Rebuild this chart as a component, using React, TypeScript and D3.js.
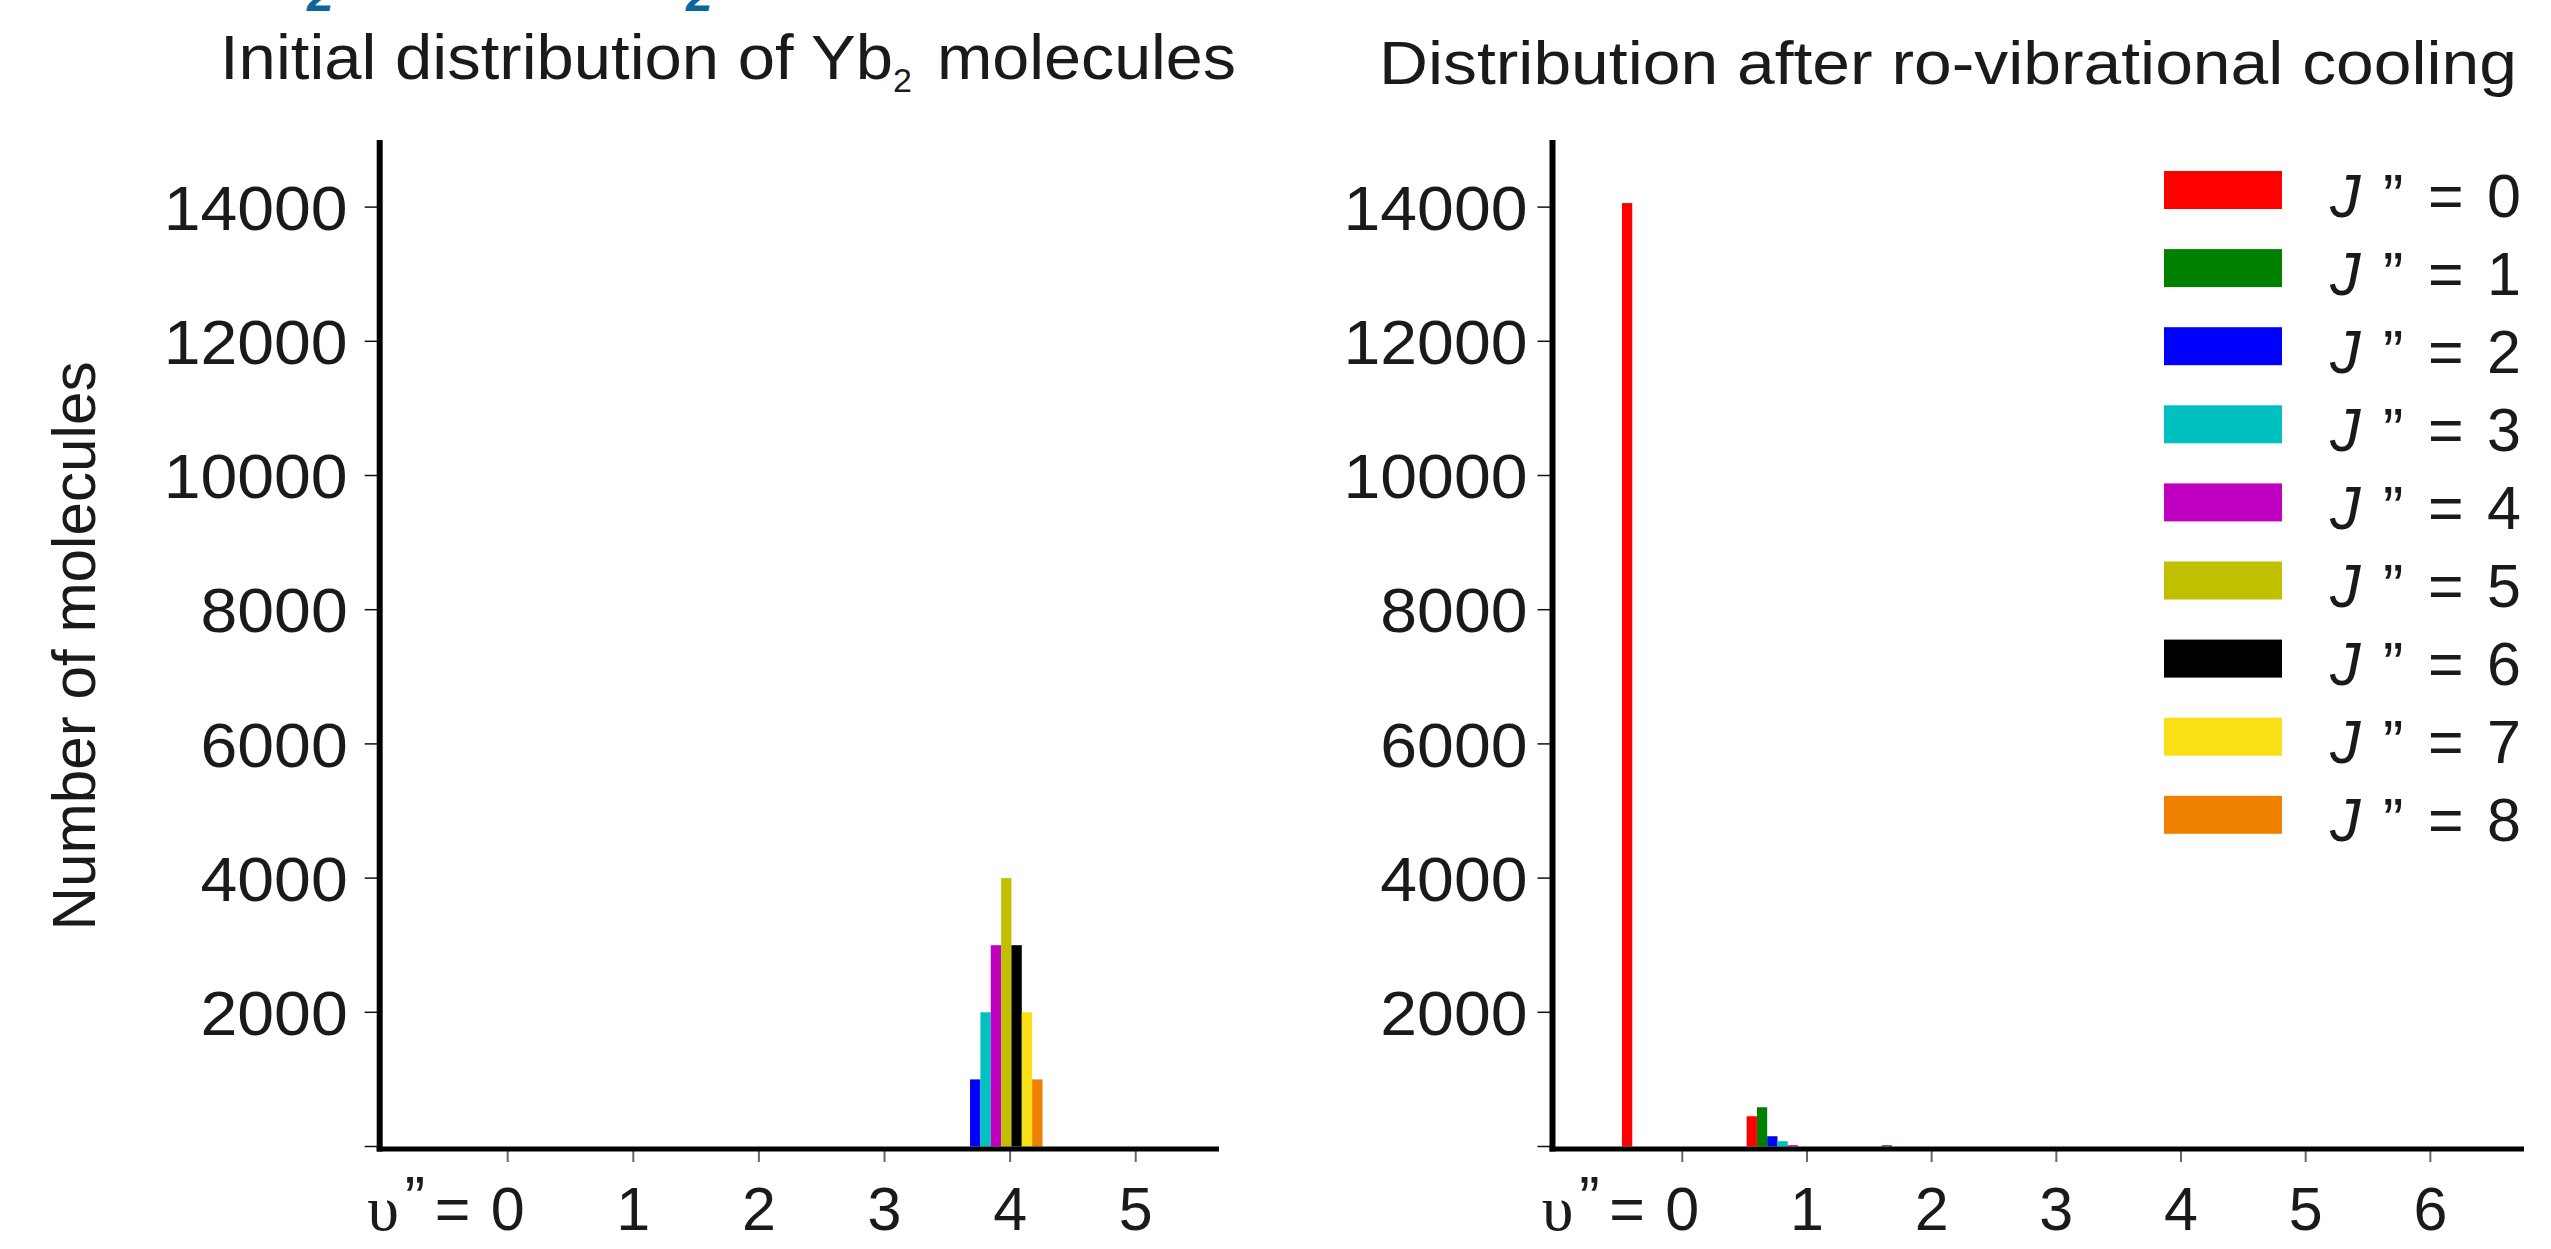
import * as d3 from "d3";

// J'' rotational levels and their colours
const jLevels = [0, 1, 2, 3, 4, 5, 6, 7, 8];
const jColors = ["#ff0000", "#008000", "#0000ff", "#00c0c0", "#c000c0", "#c0c000", "#000000", "#f9e014", "#f08000"];

// left panel: v'' = 0..5, one row per J''
const initialLevels = [0, 1, 2, 3, 4, 5];
const initialCounts = [
  [0, 0, 0, 0, 0, 0],
  [0, 0, 0, 0, 0, 0],
  [0, 0, 0, 0, 1000, 0],
  [0, 0, 0, 0, 2000, 0],
  [0, 0, 0, 0, 3000, 0],
  [0, 0, 0, 0, 4000, 0],
  [0, 0, 0, 0, 3000, 0],
  [0, 0, 0, 0, 2000, 0],
  [0, 0, 0, 0, 1000, 0],
];

// right panel: v'' = 0..6
const cooledLevels = [0, 1, 2, 3, 4, 5, 6];
const cooledCounts = [
  [14060, 451, 0, 0, 0, 0, 0],
  [0, 585, 20, 0, 0, 0, 0],
  [0, 153, 0, 0, 0, 0, 0],
  [0, 79, 0, 0, 0, 0, 0],
  [0, 20, 0, 0, 0, 0, 0],
  [0, 0, 0, 0, 0, 0, 0],
  [0, 0, 0, 0, 0, 0, 0],
  [0, 0, 0, 0, 0, 0, 0],
  [0, 0, 0, 0, 0, 0, 0],
];

const yMax = 15000;
const barW = 0.0824; // in v'' units
const groupShift = -0.113;

const sans = "'Liberation Sans', Arial, Helvetica, sans-serif";
const serif = "'Liberation Serif', 'DejaVu Serif', serif";

function Panel({ levels, counts, xDomain, xRange, labelGap }) {
  const x = d3.scaleLinear().domain(xDomain).range(xRange);
  const y = d3.scaleLinear().domain([0, yMax]).range([1146.5, 140]);
  const axisX = xRange[0];
  const bw = x(barW) - x(0);
  const t0 = x(levels[0]);

  return (
    <g>
      {/* bars */}
      {counts.map((row, j) =>
        row.map((val, vi) => {
          if (!val) return null;
          const cx = x(levels[vi] + groupShift + (j - 4) * barW);
          return (
            <rect
              key={`${j}-${vi}`}
              x={cx - bw / 2}
              y={y(val)}
              width={bw}
              height={y(0) - y(val)}
              fill={jColors[j]}
            />
          );
        })
      )}

      {/* y ticks + labels */}
      {y.ticks(7).map((t) => (
        <g key={t}>
          <line x1={axisX - 15} x2={axisX} y1={y(t)} y2={y(t)} stroke="#111" strokeWidth={1.5} />
          {t > 0 && (
            <text
              x={axisX - labelGap}
              y={y(t)}
              dy="0.36em"
              textAnchor="end"
              fontFamily={sans}
              fontSize={63}
              fill="#1a1a1a"
              textLength={String(t).length * 36.8}
              lengthAdjust="spacingAndGlyphs"
            >
              {t}
            </text>
          )}
        </g>
      ))}

      {/* x ticks + labels */}
      {levels.map((v) => (
        <g key={v}>
          <line x1={x(v)} x2={x(v)} y1={1151} y2={1162} stroke="#666" strokeWidth={2} />
          <text x={x(v)} y={1230} textAnchor="middle" fontFamily={sans} fontSize={61} fill="#1a1a1a">
            {v}
          </text>
        </g>
      ))}
      <text x={t0 - 140.5} y={1230} fontFamily={serif} fontSize={64} fill="#1a1a1a">υ</text>
      <text x={t0 - 103} y={1219} fontFamily={sans} fontSize={61} fill="#1a1a1a">”</text>
      <text x={t0 - 73} y={1230} fontFamily={sans} fontSize={61} fill="#1a1a1a">=</text>

      {/* axes */}
      <line x1={axisX} x2={axisX} y1={140} y2={1151.5} stroke="#000" strokeWidth={6} />
      <line x1={axisX - 3} x2={xRange[1]} y1={1149} y2={1149} stroke="#000" strokeWidth={5} />
    </g>
  );
}

export default function App() {
  return (
    <svg
      width={2551}
      height={1249}
      style={{ position: "absolute", left: 0, top: 0, display: "block", background: "#fff" }}
    >
      <rect width={2551} height={1249} fill="#fff" />

      {/* cut-off blue subscripts from the text above */}
      <text x={307} y={11} fontFamily={sans} fontWeight="bold" fontStyle="italic" fontSize={48} fill="#0b679a">2</text>
      <text x={686} y={11} fontFamily={sans} fontWeight="bold" fontStyle="italic" fontSize={48} fill="#0b679a">2</text>

      {/* titles */}
      <text x={220} y={79} fontFamily={sans} fontSize={63} fill="#1a1a1a" textLength={673} lengthAdjust="spacingAndGlyphs">
        Initial distribution of Yb
      </text>
      <text x={893} y={92} fontFamily={sans} fontSize={34} fill="#1a1a1a">2</text>
      <text x={937} y={79} fontFamily={sans} fontSize={63} fill="#1a1a1a" textLength={299} lengthAdjust="spacingAndGlyphs">
        molecules
      </text>
      <text x={1379} y={84} fontFamily={sans} fontSize={61} fill="#1a1a1a" textLength={1138} lengthAdjust="spacingAndGlyphs">
        Distribution after ro-vibrational cooling
      </text>

      {/* y label */}
      <text
        transform="translate(95,646) rotate(-90)"
        textAnchor="middle"
        fontFamily={sans}
        fontSize={62}
        fill="#1a1a1a"
        textLength={569}
        lengthAdjust="spacingAndGlyphs"
      >
        Number of molecules
      </text>

      <Panel levels={initialLevels} counts={initialCounts} xDomain={[-1.019, 5.663]} xRange={[379.7, 1219]} labelGap={32} />
      <Panel levels={cooledLevels} counts={cooledCounts} xDomain={[-1.041, 6.751]} xRange={[1552.5, 2524]} labelGap={25} />

      {/* legend */}
      {jLevels.map((j, i) => {
        const top = 171 + i * 78.1;
        const base = top + 45.5;
        return (
          <g key={j}>
            <rect x={2164} y={top} width={118} height={38} fill={jColors[i]} />
            <text x={2330} y={base} fontFamily={sans} fontStyle="italic" fontSize={61} fill="#1a1a1a">J</text>
            <text x={2383} y={base} fontFamily={sans} fontSize={61} fill="#1a1a1a">”</text>
            <text x={2428} y={base} fontFamily={sans} fontSize={61} fill="#1a1a1a">=</text>
            <text x={2487} y={base} fontFamily={sans} fontSize={61} fill="#1a1a1a">{j}</text>
          </g>
        );
      })}
    </svg>
  );
}
